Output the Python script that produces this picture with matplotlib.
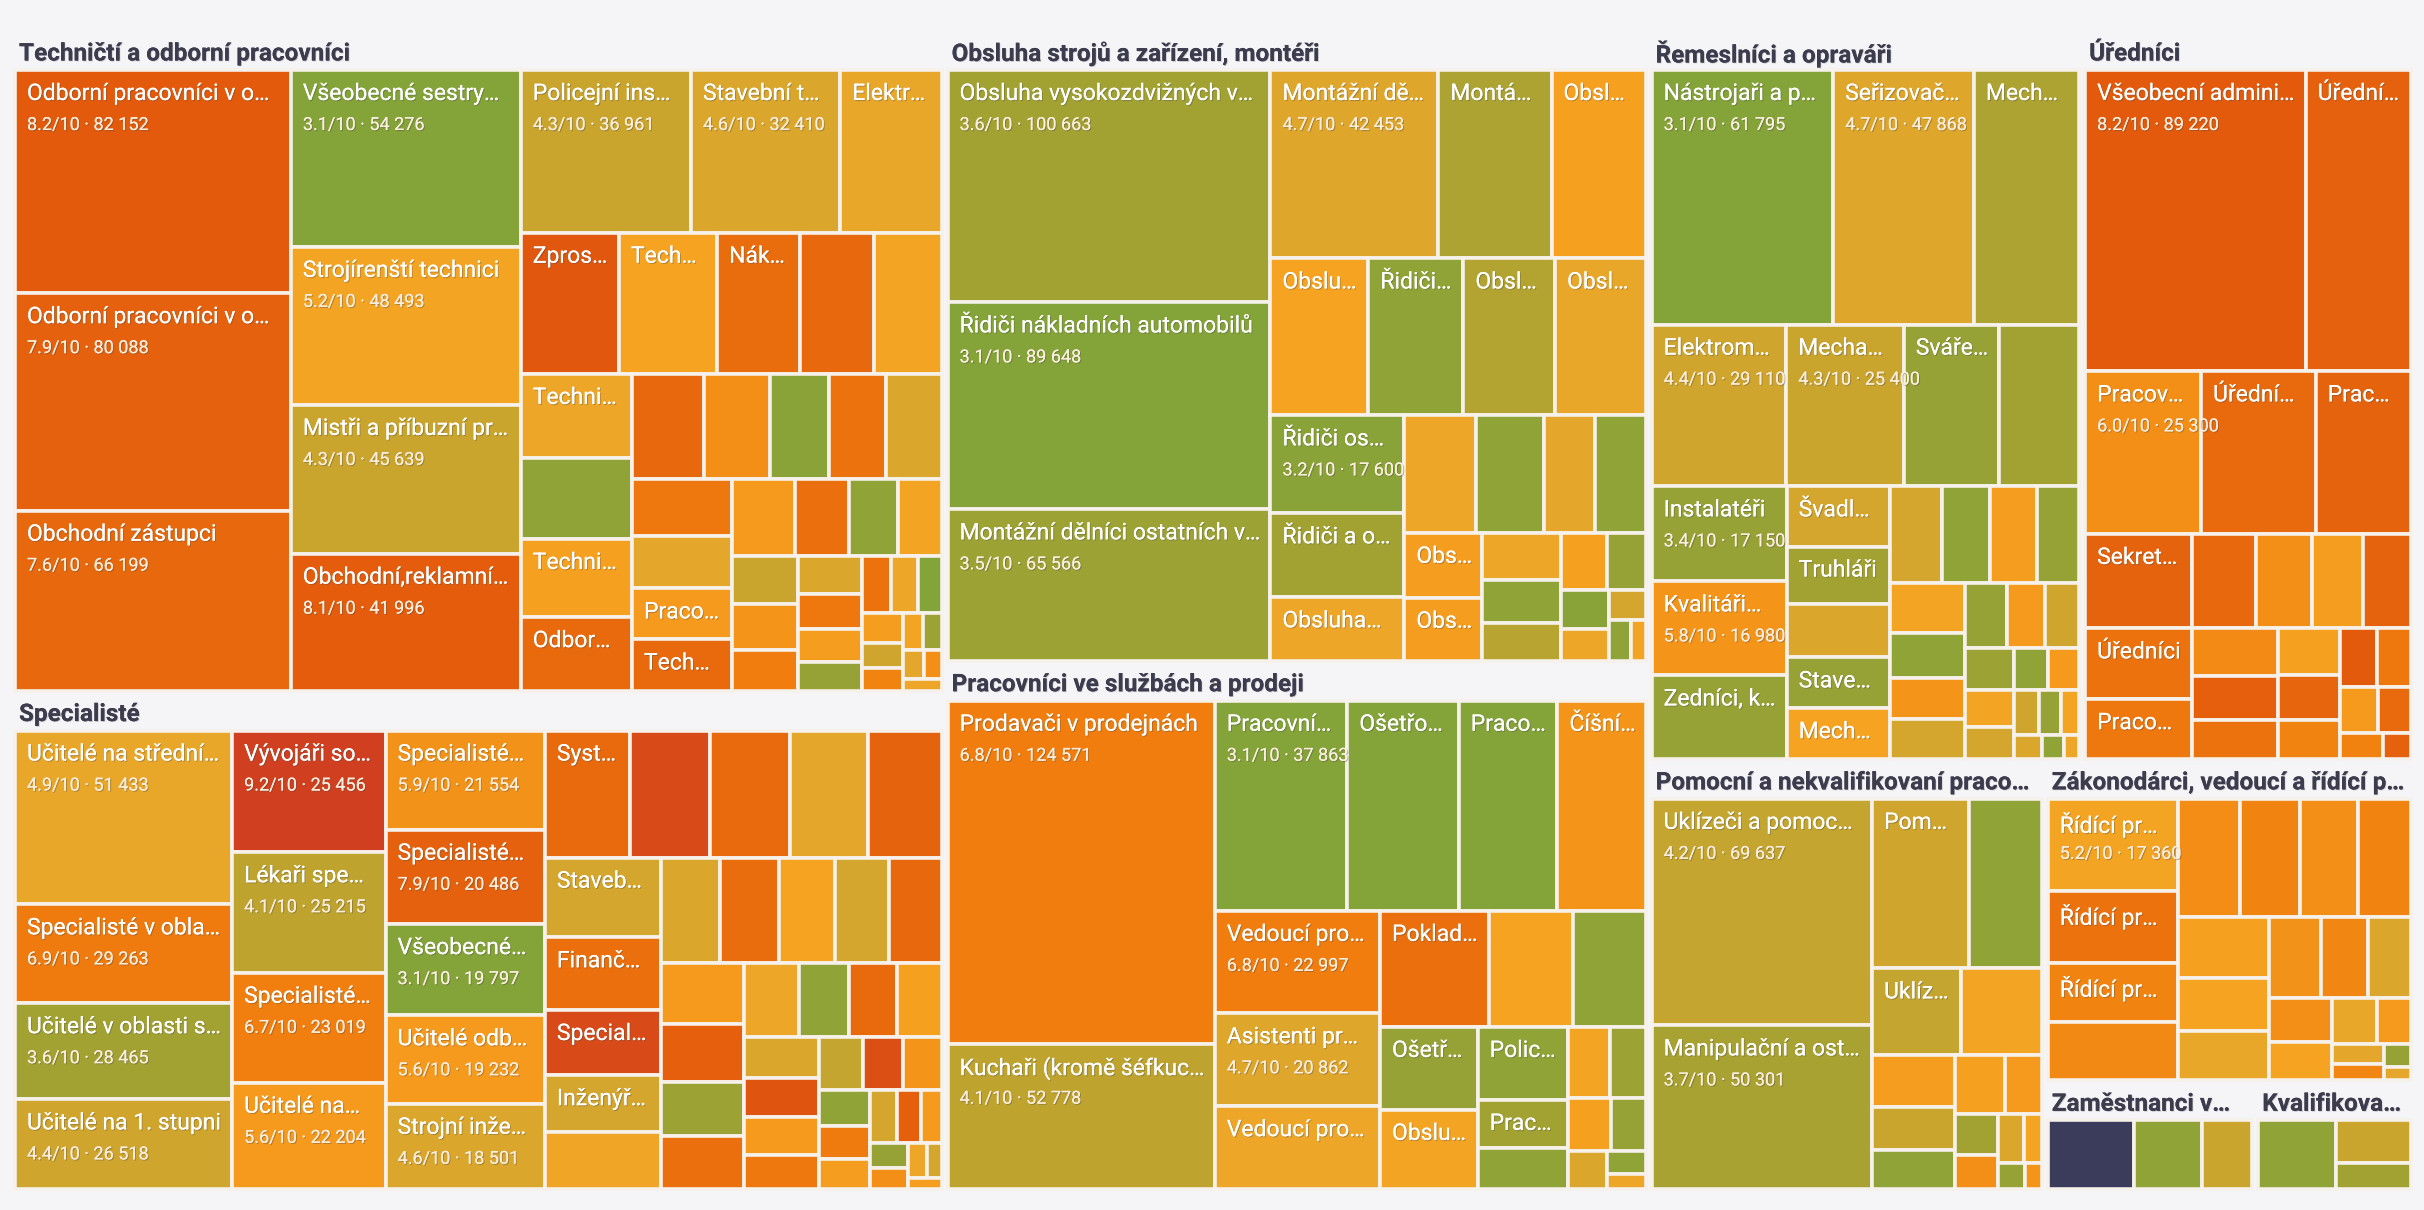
import matplotlib
matplotlib.use("Agg")
import matplotlib.pyplot as plt
import matplotlib.patheffects as pe
from matplotlib.patches import Rectangle
from matplotlib.colors import LinearSegmentedColormap
from matplotlib.font_manager import FontProperties

W, H = 2424, 1210

# (group, [(name, score, count), ...]); unnamed tiles are small occupations
groups = [
    ("Techničtí a odborní pracovníci", [
        ("Odborní pracovníci v oblasti účetnictví", 8.2, 82152),
        ("Odborní pracovníci v oblasti práva", 7.9, 80088),
        ("Obchodní zástupci", 7.6, 66199),
        ("Všeobecné sestry bez specializace", 3.1, 54276),
        ("Strojírenští technici", 5.2, 48493),
        ("Mistři a příbuzní pracovníci", 4.3, 45639),
        ("Obchodní,reklamní a propagační pracovníci", 8.1, 41996),
        ("Policejní inspektoři", 4.3, 36961),
        ("Stavební technici", 4.6, 32410),
        ("Elektrotechnici", 4.9, 22000),
        ("Zprostředkovatelé služeb", 8.3, 18500),
        ("Technici v oblasti", 5.3, 18500),
        ("Nákupčí", 7.4, 15600),
        ("Vedoucí v oblasti", 7.6, 14000),
        ("", 3.3, 12000), ("", 5.2, 12700),
        ("Technici chemičtí", 5.0, 12500), ("Technici IT", 5.4, 11600),
        ("Odborní pracovníci", 7.5, 10900), ("Technici kontroly", 7.6, 10200),
        ("Pracovníci", 6.0, 9200), ("Praktické sestry", 3.2, 8400),
        ("Technici energetici", 4.6, 7800), ("Pracovníci", 5.6, 6800),
        ("Technici", 7.5, 6800),
        ("", 7.2, 8000), ("", 7.0, 7500), ("", 4.8, 7000), ("", 5.6, 6500),
        ("", 7.3, 5500), ("", 3.3, 5000), ("", 5.2, 4500), ("", 4.3, 4200),
        ("", 5.8, 4000), ("", 6.8, 3600), ("", 4.6, 3300), ("", 7.0, 3000),
        ("", 5.5, 2800), ("", 3.4, 2500), ("", 7.2, 2200), ("", 5.0, 2000),
        ("", 3.1, 1800), ("", 5.5, 1600), ("", 4.4, 1400), ("", 6.5, 1200),
        ("", 5.2, 1000), ("", 3.5, 900), ("", 4.8, 800), ("", 6.0, 700),
        ("", 5.0, 600),
    ]),
    ("Specialisté", [
        ("Učitelé na středních školách", 4.9, 51433),
        ("Specialisté v oblasti", 6.9, 29263),
        ("Učitelé v oblasti speciální", 3.6, 28465),
        ("Učitelé na 1. stupni", 4.4, 26518),
        ("Vývojáři softwaru", 9.2, 25456),
        ("Lékaři specialisté", 4.1, 25215),
        ("Specialisté v oblasti", 6.7, 23019),
        ("Učitelé na 2. stupni", 5.6, 22204),
        ("Specialisté v oblasti", 5.9, 21554),
        ("Specialisté v oblasti", 7.9, 20486),
        ("Všeobecné sestry", 3.1, 19797),
        ("Učitelé odborných", 5.6, 19232),
        ("Strojní inženýři", 4.6, 18501),
        ("Systémoví analytici", 7.5, 14700),
        ("", 8.8, 13900), ("", 7.5, 13900), ("", 7.8, 12700), ("", 4.8, 13500),
        ("Stavební inženýři", 4.5, 12600),
        ("Finanční analytici", 7.3, 11500),
        ("Specialisté IT", 8.8, 10300),
        ("Inženýři elektro", 4.5, 9000),
        ("Inženýři", 4.6, 8500),
        ("", 5.1, 9000), ("", 7.4, 8500), ("", 5.3, 8000), ("", 4.5, 7800),
        ("", 7.6, 7500), ("", 5.6, 7000), ("", 8.0, 6500), ("", 3.5, 6200),
        ("", 7.3, 6000), ("", 5.0, 5500), ("", 3.3, 5000), ("", 7.5, 4800),
        ("", 5.4, 4500), ("", 4.6, 4200), ("", 8.4, 4000), ("", 5.6, 3800),
        ("", 7.0, 3500), ("", 4.2, 3200), ("", 8.6, 3000), ("", 5.8, 2800),
        ("", 3.3, 2500), ("", 6.9, 2300), ("", 5.5, 2100), ("", 4.5, 1900),
        ("", 8.0, 1700), ("", 5.6, 1500), ("", 3.4, 1300), ("", 6.0, 1100),
        ("", 5.0, 900), ("", 4.5, 700), ("", 5.5, 500),
    ]),
    ("Obsluha strojů a zařízení, montéři", [
        ("Obsluha vysokozdvižných vozíků", 3.6, 100663),
        ("Řidiči nákladních automobilů", 3.1, 89648),
        ("Montážní dělníci ostatních výrobků", 3.5, 65566),
        ("Montážní dělníci elektro", 4.7, 42453),
        ("Montážní dělníci mechanických", 3.8, 28600),
        ("Obsluha strojů na výrobu", 5.4, 23800),
        ("Obsluha strojů", 3.9, 19300),
        ("Obsluha zařízení", 5.3, 20600),
        ("Řidiči autobusů", 3.3, 20000),
        ("Řidiči osobních", 3.2, 17600),
        ("Obsluha linek", 4.9, 19050),
        ("Obsluha strojů", 5.0, 11300),
        ("Obsluha pecí", 3.3, 10700),
        ("", 4.8, 8000),
        ("Řidiči a obsluha", 3.6, 15080),
        ("Obsluha zařízení", 5.0, 11400),
        ("Strojvedoucí", 3.3, 8000),
        ("Obsluha strojů", 5.5, 6800),
        ("Obsluha", 5.5, 6600),
        ("", 5.0, 5000), ("", 3.3, 4500), ("", 4.0, 4000), ("", 5.4, 3500),
        ("", 3.4, 3000), ("", 3.2, 2500), ("", 5.0, 2000), ("", 4.5, 1500),
        ("", 3.3, 1200), ("", 5.2, 800),
    ]),
    ("Pracovníci ve službách a prodeji", [
        ("Prodavači v prodejnách", 6.8, 124571),
        ("Kuchaři (kromě šéfkuchařů)", 4.1, 52778),
        ("Pracovníci osobní péče", 3.1, 37863),
        ("Ošetřovatelé", 3.1, 31818),
        ("Pracovníci v sociálních", 3.1, 28200),
        ("Číšníci a servírky", 5.8, 25186),
        ("Vedoucí provozoven", 6.8, 22997),
        ("Asistenti prodeje", 4.7, 20862),
        ("Vedoucí prodejen", 5.0, 18600),
        ("Pokladníci", 7.3, 17200),
        ("", 5.3, 13200),
        ("Příslušníci", 3.3, 11500),
        ("Ošetřovatelé", 3.4, 11000),
        ("Obsluha", 5.2, 10500),
        ("Policisté", 3.3, 9000),
        ("Pracovníci", 3.6, 6000),
        ("", 3.3, 5000), ("", 5.2, 4000), ("", 3.5, 3500), ("", 5.4, 3000),
        ("", 3.4, 2500), ("", 4.6, 2000), ("", 3.3, 1200), ("", 5.0, 800),
    ]),
    ("Řemeslníci a opraváři", [
        ("Nástrojaři a příbuzní", 3.1, 61795),
        ("Seřizovači a obsluha", 4.7, 47868),
        ("Mechanici a opraváři", 3.8, 35800),
        ("Elektromechanici", 4.4, 29110),
        ("Mechanici", 4.3, 25400),
        ("Svářeči", 3.4, 20500),
        ("", 3.6, 17400),
        ("Instalatéři", 3.4, 17150),
        ("Kvalitáři a testovači", 5.8, 16980),
        ("Zedníci, kamnáři", 3.4, 15060),
        ("Švadleny", 4.5, 8300),
        ("Truhláři", 3.6, 8000),
        ("Stavební", 3.4, 7000),
        ("Mechanici", 5.3, 7000),
        ("", 4.6, 7300), ("", 4.5, 6800), ("", 3.3, 6200),
        ("", 5.5, 6000), ("", 3.4, 5500), ("", 5.2, 5000), ("", 3.3, 4500),
        ("", 5.8, 4200), ("", 4.5, 4000), ("", 3.4, 3600), ("", 5.6, 3300),
        ("", 4.4, 3000), ("", 3.5, 2700), ("", 5.2, 2400), ("", 4.5, 2100),
        ("", 3.3, 1900), ("", 5.6, 1700), ("", 4.4, 1500), ("", 3.4, 1300),
        ("", 5.2, 1100), ("", 4.6, 900), ("", 3.3, 700), ("", 5.0, 500),
    ]),
    ("Úředníci", [
        ("Všeobecní administrativní pracovníci", 8.2, 89220),
        ("Úředníci v oblasti", 7.9, 42600),
        ("Úředníci ve skladech", 7.5, 25000),
        ("Pracovníci informací", 6.0, 25300),
        ("Pracovníci", 7.8, 20800),
        ("Sekretáři", 7.8, 13600),
        ("Úředníci", 7.2, 10200),
        ("Pracovníci", 7.0, 8600),
        ("", 7.6, 8000), ("", 6.0, 7000), ("", 5.5, 6500), ("", 7.8, 6000),
        ("", 6.2, 5500), ("", 8.0, 5000), ("", 7.2, 4500), ("", 5.4, 4000),
        ("", 7.7, 3700), ("", 6.5, 3300), ("", 8.2, 3000), ("", 7.0, 2700),
        ("", 5.6, 2300), ("", 7.5, 2000), ("", 6.6, 1500), ("", 7.9, 1000),
    ]),
    ("Pomocní a nekvalifikovaní pracovníci", [
        ("Uklízeči a pomocníci", 4.2, 69637),
        ("Manipulační a ostatní pracovníci", 3.7, 50301),
        ("Pomocní pracovníci", 4.4, 22800),
        ("", 3.3, 17300),
        ("Uklízeči", 4.2, 10800),
        ("", 5.2, 9800),
        ("", 5.5, 6000), ("", 4.3, 5000), ("", 3.3, 4500), ("", 5.4, 4000),
        ("", 5.6, 3000), ("", 3.6, 2500), ("", 6.0, 2000), ("", 4.6, 1800),
        ("", 5.2, 1200), ("", 3.4, 1000), ("", 5.8, 600),
    ]),
    ("Zákonodárci, vedoucí a řídící pracovníci", [
        ("Řídící pracovníci v oblasti", 5.2, 17360),
        ("Řídící pracovníci obchodu", 7.2, 13570),
        ("Řídící pracovníci výroby", 6.5, 11200),
        ("Řídící pracovníci", 6.5, 10300),
        ("", 6.3, 11000), ("", 6.1, 10500), ("", 6.0, 10000), ("", 6.5, 9000),
        ("", 5.4, 8000), ("", 5.3, 7000), ("", 4.9, 6500), ("", 5.9, 6000),
        ("", 6.4, 5500), ("", 4.6, 5000), ("", 6.0, 4000), ("", 5.3, 3500),
        ("", 4.9, 3000), ("", 5.6, 2300), ("", 4.8, 1500), ("", 6.4, 1200),
        ("", 3.4, 900), ("", 4.8, 500),
    ]),
    ("Zaměstnanci v ozbrojených silách", [
        ("", None, 12000), ("", 3.3, 9500), ("", 4.3, 7000),
    ]),
    ("Kvalifikovaní pracovníci v zemědělství", [
        ("", 3.3, 11000), ("", 4.3, 6500), ("", 3.6, 4000),
    ]),
]

cmap = LinearSegmentedColormap.from_list("score", [
    (0.0, "#7fa33a"), (0.6 / 6.5, "#a3a233"), (1.3 / 6.5, "#c9a52e"),
    (1.9 / 6.5, "#eaa72a"), (2.3 / 6.5, "#f6a321"), (3.0 / 6.5, "#f38f17"),
    (3.8 / 6.5, "#f07d0e"), (4.6 / 6.5, "#e8680d"), (5.2 / 6.5, "#e35a0c"),
    (6.2 / 6.5, "#d1401f"), (1.0, "#c8361f")])


def color_for(score):
    if score is None:
        return "#3b3c5c"
    return cmap(min(max((score - 3.0) / 6.5, 0), 1))


def squarify(values, x0, y0, x1, y1, ratio=1.618):
    # d3.treemapSquarify
    out = []
    n = len(values)
    total = float(sum(values))
    i0 = i1 = 0
    while i0 < n:
        dx, dy = x1 - x0, y1 - y0
        s = values[i1]; i1 += 1
        mn = mx = s
        alpha = max(dy / dx, dx / dy) / (total * ratio)
        beta = s * s * alpha
        best = max(mx / beta, beta / mn)
        while i1 < n:
            v = values[i1]
            s2 = s + v
            mn2, mx2 = min(mn, v), max(mx, v)
            beta = s2 * s2 * alpha
            r = max(mx2 / beta, beta / mn2)
            if r > best:
                break
            s, mn, mx, best = s2, mn2, mx2, r
            i1 += 1
        row = values[i0:i1]
        if dx < dy:
            ny = y0 + dy * s / total if total else y1
            xx = x0
            for v in row:
                w = dx * v / s
                out.append((xx, y0, xx + w, ny)); xx += w
            y0 = ny
        else:
            nx = x0 + dx * s / total if total else x1
            yy = y0
            for v in row:
                h = dy * v / s
                out.append((x0, yy, nx, yy + h)); yy += h
            x0 = nx
        total -= s
        i0 = i1
    return out


fig = plt.figure(figsize=(W / 100, H / 100), dpi=100)
fig.patch.set_facecolor("#f5f5f7")
ax = fig.add_axes([0, 0, 1, 1])
ax.set_xlim(0, W)
ax.set_ylim(H, 0)
ax.axis("off")

renderer = fig.canvas.get_renderer()
fam = ["Roboto", "DejaVu Sans"]
fp_name = FontProperties(family=fam, size=16.5)
fp_sub = FontProperties(family=fam, size=13)
fp_head = FontProperties(family=fam, size=17.5, weight="bold")
shadow = [pe.withSimplePatchShadow(offset=(0.8, -0.8), alpha=0.35), pe.Normal()]


def text_w(s, fp):
    return renderer.get_text_width_height_descent(s, fp, ismath=False)[0]


def fit(s, fp, maxw):
    if text_w(s, fp) <= maxw:
        return s
    while s and text_w(s + "…", fp) > maxw:
        s = s[:-1]
    return s.rstrip() + "…" if s else ""


groups = sorted(groups, key=lambda g: -sum(c for _, _, c in g[1]))
gtot = [sum(c for _, _, c in g[1]) for g in groups]
grects = squarify(gtot, 12, 33, 2414, 1192)

for (gname, items), (gx0, gy0, gx1, gy1) in zip(groups, grects):
    gx0 += 3; gx1 -= 3; gy0 += 3; gy1 -= 3
    head = 34
    ax.text(gx0 + 4, gy0 + head / 2 + 1, fit(gname, fp_head, gx1 - gx0 - 10),
            fontproperties=fp_head, color="#3c3c4e", va="center", ha="left",
            path_effects=[pe.withSimplePatchShadow(offset=(0.6, -0.6), alpha=0.2), pe.Normal()])
    items = sorted(items, key=lambda t: -t[2])
    rects = squarify([c for _, _, c in items], gx0, gy0 + head, gx1, gy1)
    for (name, score, cnt), (x0, y0, x1, y1) in zip(items, rects):
        r = Rectangle((x0, y0), x1 - x0, y1 - y0, facecolor=color_for(score),
                      edgecolor="#f6f1ea", linewidth=2.6)
        ax.add_patch(r)
        w, h = x1 - x0, y1 - y0
        if name and w > 75 and h > 45:
            ax.text(x0 + 12, y0 + 12, fit(name, fp_name, w - 22), fontproperties=fp_name,
                    color="white", va="top", ha="left", path_effects=shadow)
            if score is not None and w > 115 and h > 85:
                sub = f"{score:.1f}/10 · {cnt:,}".replace(",", " ")
                t = ax.text(x0 + 12, y0 + 46, sub, fontproperties=fp_sub,
                            color="#fbeede", va="top", ha="left", path_effects=shadow)
                t.set_clip_path(r)

fig.savefig("out.png", dpi=100, facecolor=fig.get_facecolor())
